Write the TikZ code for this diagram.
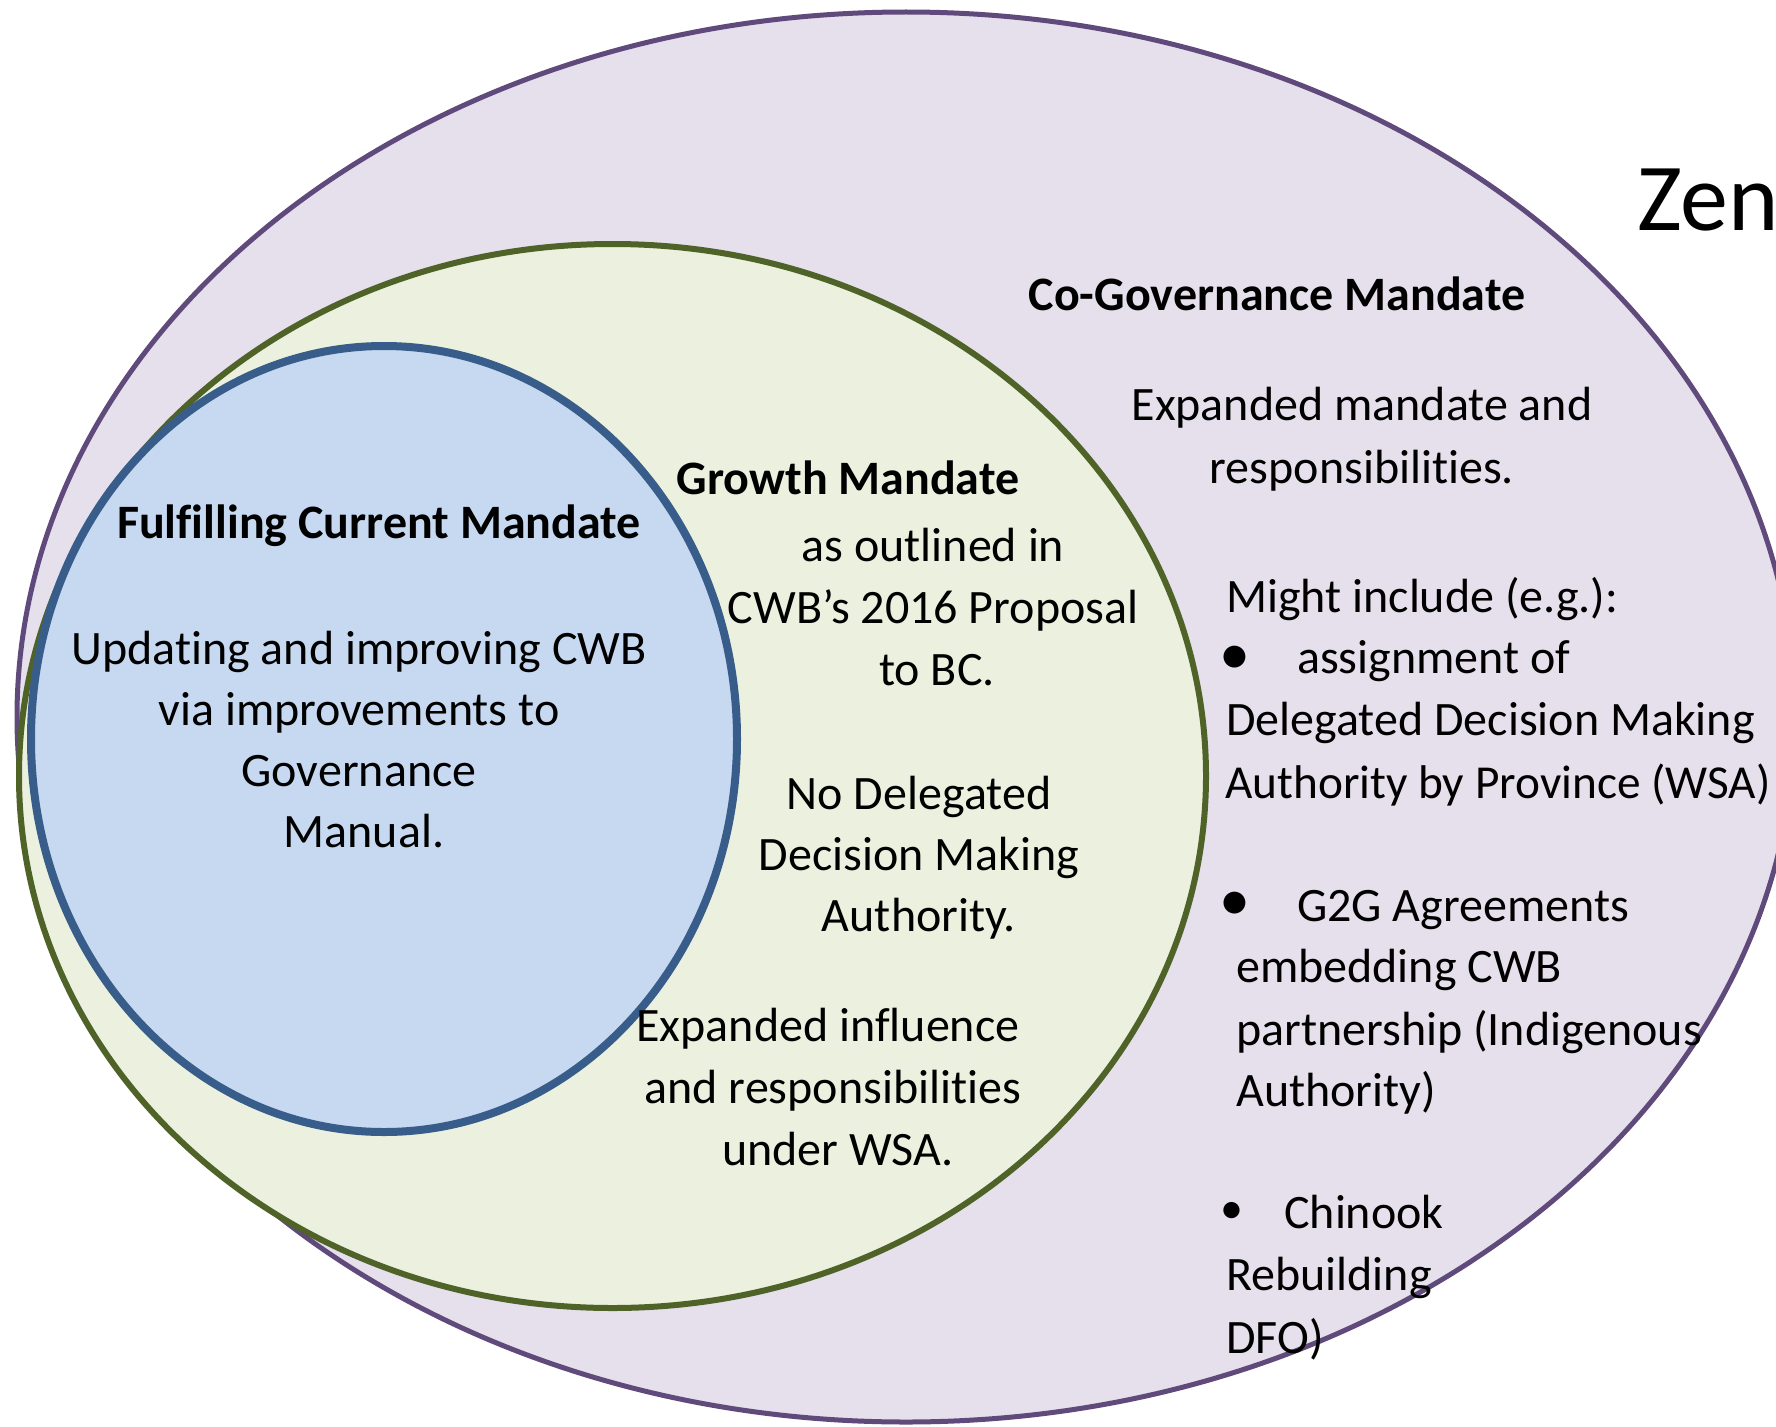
\documentclass[tikz,border=0pt]{standalone}
\usepackage{fontspec}
\setmainfont[Ligatures=NoCommon]{Carlito}
\definecolor{pline}{HTML}{604A7B}
\definecolor{pfill}{HTML}{E5E0EC}
\definecolor{gline}{HTML}{4F6228}
\definecolor{gfill}{HTML}{EBF1DE}
\definecolor{bline}{HTML}{385D8A}
\definecolor{bfill}{HTML}{C6D9F1}
\begin{document}
\begin{tikzpicture}[x=1pt,y=-1pt,
  txt/.style={font=\fontsize{48}{60}\selectfont, inner sep=0pt, anchor=base},
  txtl/.style={txt, anchor=base west},
  hdr/.style={txt, font=\fontsize{48}{60}\selectfont\bfseries},
  bul/.style={inner sep=0pt, anchor=center, font=\fontsize{62}{62}\selectfont},
  sbul/.style={inner sep=0pt, anchor=center, font=\fontsize{46}{46}\selectfont}]
\useasboundingbox (0,0) rectangle (1776,1426);
\fill[white] (0,0) rectangle (1776,1426);
% shapes
\draw[pline, line width=5pt, fill=pfill] (906,717) ellipse [x radius=889pt, y radius=705pt];
\draw[gline, line width=6pt, fill=gfill] (612.5,776) ellipse [x radius=593.5pt, y radius=532pt];
\draw[bline, line width=8pt, fill=bfill] (384,739) ellipse [x radius=353pt, y radius=393pt];
% Zen
\node[inner sep=0pt, anchor=base west, font=\fontsize{96}{100}\selectfont] (zen) at (1637,230) {Zen};
% blue texts
\node[hdr] (fh) at (379,538) {Fulfilling Current Mandate};
\node[txt] (f1) at (359,664) {Updating and improving CWB};
\node[txt] (f2) at (359,725) {via improvements to};
\node[txt] (f3) at (359,786) {Governance};
\node[txt] (f4) at (364,847) {Manual.};
% green texts
\node[hdr] (gh) at (848,494) {Growth Mandate};
\node[txt] (g1) at (933,561) {as outlined in};
\node[txt] (g2) at (933,623) {CWB’s 2016 Proposal};
\node[txt] (g3) at (937,685) {to BC.};
\node[txt] (g4) at (919,809) {No Delegated};
\node[txt] (g5) at (919,870) {Decision Making};
\node[txt] (g6) at (919,931) {Authority.};
\node[txt] (g7) at (828,1041) {Expanded influence};
\node[txt] (g8) at (833,1103) {and responsibilities};
\node[txt] (g9) at (838,1165) {under WSA.};
% purple texts
\node[hdr] (ph) at (1277,310) {Co-Governance Mandate};
\node[txt] (p1) at (1362,420) {Expanded mandate and};
\node[txt] (p2) at (1362,483) {responsibilities.};
\node[txtl] (p3) at (1226,612) {Might include (e.g.):};
\node[bul] (pb1) at (1235,660) {•};
\node[txtl] (p4) at (1297,673) {assignment of};
\node[txtl] (p5) at (1226,735) {Delegated Decision Making};
\node[txtl, font=\fontsize{47.3}{60}\selectfont] (p6) at (1225,798) {Authority by Province (WSA)};
\node[bul] (pb2) at (1235,906) {•};
\node[txtl] (p7) at (1297,921) {G2G Agreements};
\node[txtl] (p8) at (1236,982) {embedding CWB};
\node[txtl] (p9) at (1236,1045) {partnership (Indigenous};
\node[txtl] (p10) at (1236,1106) {Authority)};
\node[sbul] (pb3) at (1232,1213) {•};
\node[txtl] (p11) at (1284,1228) {Chinook};
\node[txtl] (p12) at (1226,1290) {Rebuilding};
\node[txtl] (p13) at (1226,1353) {DFO)};
\end{tikzpicture}
\end{document}
